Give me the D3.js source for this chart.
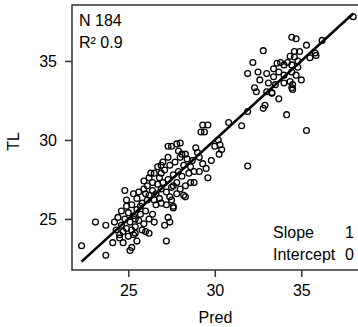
<!DOCTYPE html>
<html>
<head>
<meta charset="utf-8">
<script src="https://cdn.jsdelivr.net/npm/d3@7"></script>
<style>
body { margin: 0; background: #fff; }
svg text { font-family: "Liberation Sans", Arial, sans-serif; fill: #000; }
</style>
</head>
<body>
<svg></svg>
<script>
const width = 358;
const height = 327;
const svg = d3.select("svg").attr("width", width).attr("height", height);

const pred = [38.0, 36.2, 34.45, 34.7, 35.3, 32.8, 34.6, 34.9, 35.8, 35.85,
	34.35, 34.6, 32.2, 33.6, 33.8, 34.8, 34.0, 34.45, 34.8, 33.4,
	31.9, 32.5, 33.0, 34.45, 33.4, 34.0, 34.7, 32.6, 35.0, 34.35,
	34.0, 33.5, 34.5, 32.3, 34.45, 32.4, 33.0, 33.3, 34.5, 33.7,
	32.9, 32.8, 34.15, 31.9, 35.3, 31.55, 30.8, 31.9, 33.7, 33.1,
	34.2, 35.5, 33.3,
	29.3, 29.6, 29.2, 29.4, 30.2, 30.3, 30.0, 30.4, 30.25, 28.9,
	29.1, 29.8, 27.8, 28.0, 27.3, 27.5, 28.1, 28.3, 29.3, 29.5,
	29.1, 28.8, 29.6, 28.8, 28.6, 28.2, 27.6, 26.9, 27.3, 27.4,
	27.1, 27.2, 27.6, 27.5,
	22.3, 23.7, 23.1, 23.7, 24.1, 24.7, 25.1, 25.2, 25.4, 26.2,
	24.8, 25.6, 25.9, 26.4, 26.7, 26.5,
	24.3, 24.5, 24.6, 24.8, 24.9, 25.0, 25.1, 25.2, 25.3, 25.4,
	25.5, 25.6, 25.7, 25.8, 25.9, 26.0, 26.1, 26.2, 24.6, 24.4,
	25.0, 25.3, 25.8, 26.4, 26.5, 26.6, 24.9, 25.5, 26.0, 25.2,
	24.7, 25.7, 24.2,
	26.2, 26.4, 26.6, 26.8, 26.9, 27.0, 27.1, 27.2, 27.3, 27.4,
	27.5, 27.6, 27.7, 27.8, 27.9, 28.0, 28.1, 28.2, 28.3, 28.4,
	28.5, 26.3, 26.7, 27.0, 26.5, 27.2, 26.8, 27.8, 28.0, 27.4,
	26.9, 27.6, 28.6, 26.1, 27.3, 28.3, 26.9, 25.9, 25.3, 24.9,
	26.0, 25.5, 24.5, 29.0, 28.7, 27.9, 26.2, 25.4];
const tl = [37.8, 36.3, 36.5, 36.4, 36.0, 35.65, 35.6, 35.6, 35.5, 35.35,
	35.3, 35.25, 34.9, 34.85, 34.9, 35.0, 34.75, 34.75, 34.6, 34.5,
	34.2, 34.3, 34.2, 34.3, 34.0, 34.1, 34.1, 33.8, 33.8, 33.7,
	33.6, 33.5, 33.5, 33.3, 33.3, 33.05, 33.05, 32.95, 33.2, 32.6,
	32.2, 32.0, 31.6, 31.8, 30.6, 30.9, 31.1, 28.35, 34.3, 33.6,
	34.9, 35.2, 33.0,
	30.95, 30.95, 30.5, 30.5, 30.0, 29.7, 29.6, 29.4, 29.1, 29.5,
	28.9, 28.7, 29.75, 29.8, 29.6, 29.6, 29.1, 29.1, 28.5, 28.2,
	28.0, 28.0, 27.6, 27.3, 27.3, 26.5, 25.7, 26.0, 25.1, 24.8,
	24.6, 23.6, 25.8, 26.2,
	23.3, 22.7, 24.8, 24.6, 23.5, 23.5, 23.0, 23.2, 24.1, 24.1,
	26.8, 26.7, 26.9, 26.8, 27.2, 27.9,
	24.3, 24.0, 24.6, 25.0, 24.4, 25.4, 24.8, 25.9, 25.2, 24.5,
	25.6, 24.9, 25.3, 26.0, 24.7, 25.5, 26.2, 25.0, 25.5, 25.1,
	23.9, 24.0, 24.3, 25.3, 24.8, 25.9, 25.8, 26.3, 26.6, 24.3,
	24.2, 25.8, 24.8,
	26.5, 27.3, 26.6, 27.6, 26.9, 27.3, 28.1, 26.7, 27.5, 28.4,
	27.0, 27.8, 28.6, 27.3, 28.0, 26.9, 27.7, 28.4, 27.1, 28.8,
	27.9, 27.9, 28.3, 28.6, 26.2, 25.9, 26.3, 26.6, 28.9, 26.4,
	27.9, 27.1, 28.3, 27.1, 28.9, 26.4, 28.4, 27.4, 26.6, 26.2,
	24.2, 23.6, 23.8, 29.2, 28.7, 29.3, 27.6, 25.0];
const xTicks = [25, 30, 35];
const yTicks = [25, 30, 35];
const statsTopLeft = ["N 184", "R\u00b2 0.9"];
const fitLabels = ["Slope", "Intercept"];
const fitValues = ["1", "0"];

const points = pred.map((p, i) => ({ x: p, y: tl[i] }));

const pLeft = 72, pRight = 359, pTop = 5, pBottom = 270;
const fs = "16px";

const x = d3.scaleLinear().domain([21.746, 38.335]).range([pLeft, pRight]);
const y = d3.scaleLinear().domain([21.77, 38.54]).range([pBottom, pTop]);

// frame
svg.append("rect")
	.attr("x", pLeft).attr("y", pTop)
	.attr("width", pRight - pLeft).attr("height", pBottom - pTop)
	.attr("fill", "none").attr("stroke", "#333").attr("stroke-width", 1.5);

const xAxis = svg.append("g")
	.attr("transform", `translate(0,${pBottom})`)
	.call(d3.axisBottom(x).tickValues(xTicks).tickSize(7).tickPadding(8).tickFormat(d3.format("d")));
const yAxis = svg.append("g")
	.attr("transform", `translate(${pLeft},0)`)
	.call(d3.axisLeft(y).tickValues(yTicks).tickSize(7).tickPadding(8).tickFormat(d3.format("d")));

[xAxis, yAxis].forEach(a => {
	a.select(".domain").remove();
	a.selectAll(".tick line").attr("stroke", "#333").attr("stroke-width", 1.5);
	a.selectAll(".tick text").style("font-size", fs).attr("fill", "#000");
});

// identity fit line across the data range
const ext = d3.extent(pred);
svg.append("line")
	.attr("x1", x(ext[0])).attr("y1", y(ext[0]))
	.attr("x2", x(ext[1])).attr("y2", y(ext[1]))
	.attr("stroke", "#000").attr("stroke-width", 2.6);

svg.append("g")
	.selectAll("circle")
	.data(points)
	.join("circle")
	.attr("cx", d => x(d.x))
	.attr("cy", d => y(d.y))
	.attr("r", 2.9)
	.attr("fill", "none")
	.attr("stroke", "#000")
	.attr("stroke-width", 1.3);

// insets
svg.selectAll(".stat")
	.data(statsTopLeft)
	.join("text")
	.attr("class", "stat")
	.attr("x", 79)
	.attr("y", (d, i) => 26 + i * 21.5)
	.style("font-size", fs)
	.text(d => d);

fitLabels.forEach((lab, i) => {
	svg.append("text").attr("x", 273).attr("y", 238 + i * 22)
		.style("font-size", fs).text(lab);
	svg.append("text").attr("x", 354).attr("y", 238 + i * 22)
		.attr("text-anchor", "end").style("font-size", fs).text(fitValues[i]);
});

svg.append("text")
	.attr("x", (pLeft + pRight) / 2).attr("y", 323)
	.attr("text-anchor", "middle").style("font-size", fs).text("Pred");

svg.append("text")
	.attr("transform", `translate(19,${(pTop + pBottom) / 2 + 4}) rotate(-90)`)
	.attr("text-anchor", "middle").style("font-size", fs).text("TL");
</script>
</body>
</html>
